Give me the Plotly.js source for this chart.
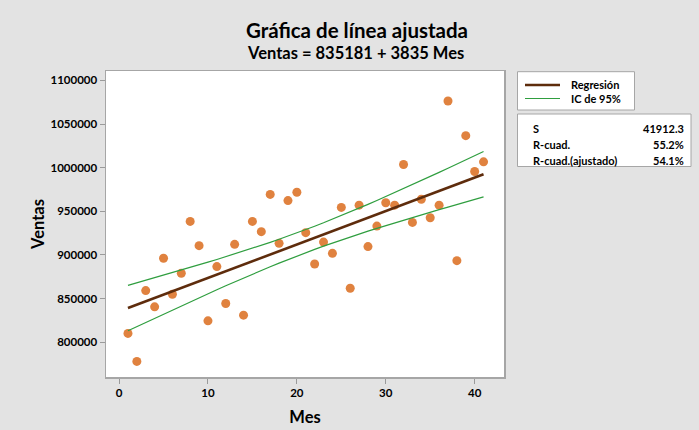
<!DOCTYPE html>
<html>
<head>
<meta charset="utf-8">
<script src="https://cdn.plot.ly/plotly-3.0.1.min.js"></script>
<style>html,body{margin:0;padding:0;background:#e3e3e3;}#chart{width:699px;height:430px;}</style>
</head>
<body>
<div id="chart"></div>
<script>
// Data
const mes = [1,2,3,4,5,6,7,8,9,10,11,12,13,14,15,16,17,18,19,20,21,22,23,24,25,26,27,28,29,30,31,32,33,34,35,36,37,38,39,40,41];
const ventas = [810000,777900,859100,840400,896100,854900,878900,938400,910600,824400,
  886600,844300,912100,830900,938400,926600,969300,913200,962200,971800,
  925500,889600,914700,901800,954400,861800,957000,909500,933000,959800,
  957000,1003600,937200,963800,942600,957000,1076400,893400,1036700,995600,1006700];
// Fit statistics shown in the chart
const intercepto = 835181;
const pendiente = 3835;
const S = 41912.3;
const rCuad = "55.2%";
const rCuadAj = "54.1%";
const tCrit = 2.0227; // t(0.975, n-2 = 39)
const yTicks = [800000,850000,900000,950000,1000000,1050000,1100000];
const xTicks = [0,10,20,30,40];
const legendLabels = ["Regresión", "IC de 95%"];

const n = mes.length;
const xMean = mes.reduce((a,b)=>a+b,0)/n;
const Sxx = mes.reduce((a,x)=>a+(x-xMean)*(x-xMean),0);
const fit = mes.map(x=>intercepto+pendiente*x);
const half = mes.map(x=>tCrit*S*Math.sqrt(1/n+(x-xMean)*(x-xMean)/Sxx));
const ciUp = fit.map((f,i)=>f+half[i]);
const ciLo = fit.map((f,i)=>f-half[i]);

const FONT = "Lato, 'Noto Sans', sans-serif";
const green = '#2f9e3f';
const brown = '#5e2c0c';

const traces = [
  {x: mes, y: ventas, type:'scatter', mode:'markers', name:'Ventas',
   marker:{color:'#e0823f', size:9}},
  {x: mes, y: ciUp, type:'scatter', mode:'lines', name:legendLabels[1],
   line:{color:green, width:1.2}},
  {x: mes, y: ciLo, type:'scatter', mode:'lines', name:legendLabels[1],
   line:{color:green, width:1.2}},
  {x: mes, y: fit, type:'scatter', mode:'lines', name:legendLabels[0],
   line:{color:brown, width:2.6}}
];

// Plot area pixels: left 106, right 504, top 71, bottom 377
const L=106, R=504, T=71, B=377, W=699, H=430;
const px = v => (v-L)/(R-L);
const py = v => (B-v)/(B-T);

const statsRows = [["S", S.toFixed(1)], ["R-cuad.", rCuad], ["R-cuad.(ajustado)", rCuadAj]];
const rowY = [128.5, 144.5, 160];
const annotations = [
  {text:'<b>Ventas = ' + intercepto + ' + ' + pendiente + ' Mes</b>', xref:'paper', yref:'paper',
   x: px(355), y: py(53), xanchor:'center', yanchor:'middle', showarrow:false,
   font:{family:FONT, size:16.5, color:'#000'}}
];
statsRows.forEach((r,i)=>{
  annotations.push({text:'<b>'+r[0]+'</b>', xref:'paper', yref:'paper', x:px(531), y:py(rowY[i]),
    xanchor:'left', yanchor:'middle', showarrow:false, font:{family:FONT,size:11,color:'#000'}});
  annotations.push({text:'<b>'+r[1]+'</b>', xref:'paper', yref:'paper', x:px(686), y:py(rowY[i]),
    xanchor:'right', yanchor:'middle', showarrow:false, font:{family:FONT,size:11,color:'#000'}});
});
const legY = [85, 98.5];
legendLabels.forEach((lab,i)=>{
  annotations.push({text:'<b>'+lab+'</b>', xref:'paper', yref:'paper', x:px(569), y:py(legY[i]),
    xanchor:'left', yanchor:'middle', showarrow:false, font:{family:FONT,size:11,color:'#000'}});
});

const layout = {
  width: W, height: H,
  paper_bgcolor:'#e3e3e3', plot_bgcolor:'#ffffff',
  margin:{l:L, r:W-R, t:T, b:H-B},
  font:{family:FONT, color:'#000'},
  showlegend:false,
  title:{text:'<b>Gráfica de línea ajustada</b>', x:357/W, xanchor:'center', xref:'container',
         y:1-31/H, yanchor:'middle', yref:'container', font:{family:FONT, size:20.5, color:'#000'}},
  xaxis:{range:[-1.47,43.3], tickvals:xTicks, ticktext:xTicks.map(String), showgrid:false, zeroline:false,
         ticks:'outside', ticklen:5, tickcolor:'#9a9a9a', linecolor:'#a6a6a6', linewidth:1.5, mirror:true,
         tickfont:{family:FONT, size:11.5, color:'#000', weight:'bold'},
         title:{text:'<b>Mes</b>', font:{family:FONT, size:16.5, color:'#000'}, standoff:13}},
  yaxis:{range:[760000,1110800], tickvals:yTicks, ticktext:yTicks.map(String), showgrid:false, zeroline:false,
         ticks:'outside', ticklen:5, tickcolor:'#9a9a9a', linecolor:'#a6a6a6', linewidth:1.5, mirror:true,
         tickfont:{family:FONT, size:11.5, color:'#000', weight:'bold'},
         title:{text:'<b>Ventas</b>', font:{family:FONT, size:16.5, color:'#000'}, standoff:1}},
  shapes:[
    {type:'rect', xref:'paper', yref:'paper', x0:px(517.5), x1:px(634.5), y0:py(110), y1:py(71.7),
     fillcolor:'#ffffff', line:{color:'#a6a6a6', width:1}, layer:'below'},
    {type:'line', xref:'paper', yref:'paper', x0:px(525), x1:px(560), y0:py(legY[0]), y1:py(legY[0]),
     line:{color:brown, width:2.6}},
    {type:'line', xref:'paper', yref:'paper', x0:px(525), x1:px(560), y0:py(legY[1]), y1:py(legY[1]),
     line:{color:green, width:1.2}},
    {type:'rect', xref:'paper', yref:'paper', x0:px(517.5), x1:px(691), y0:py(166.5), y1:py(114),
     fillcolor:'#ffffff', line:{color:'#a6a6a6', width:1}, layer:'below'}
  ],
  annotations: annotations
};

Plotly.newPlot('chart', traces, layout, {displayModeBar:false, staticPlot:true});
</script>
</body>
</html>
